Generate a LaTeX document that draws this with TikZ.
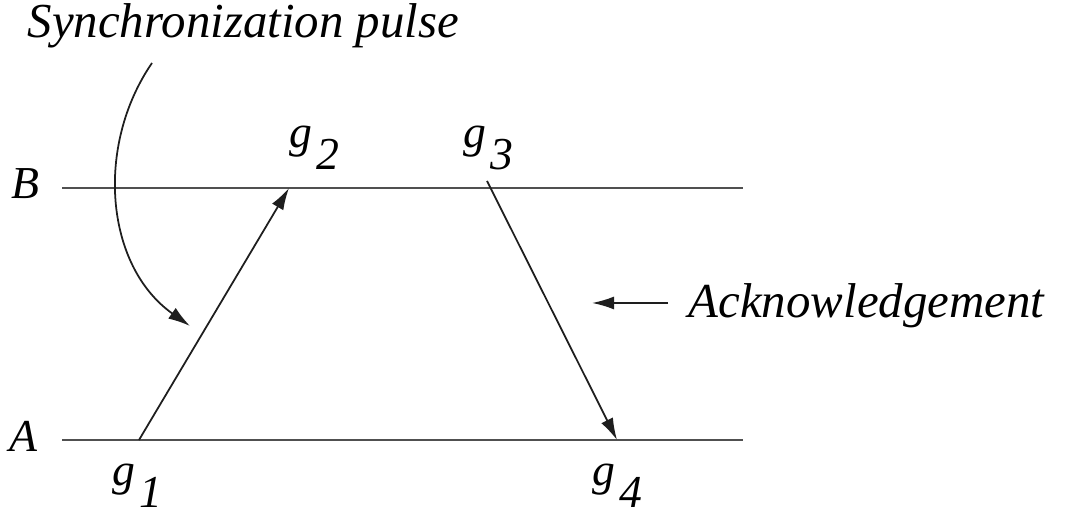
\documentclass[tikz,border=0pt]{standalone}
\usepackage{fontspec}
\setmainfont{Liberation Serif}
\usetikzlibrary{positioning,arrows.meta,calc}
\definecolor{TimeLine}{RGB}{80,80,80}
\definecolor{MsgInk}{RGB}{30,30,30}
\tikzset{
  time line/.style={draw=TimeLine, line width=0.7pt},
  msg arrow/.style={-{Latex[length=2.2mm,width=1.3mm]}, line width=0.5pt, MsgInk},
  evt label/.style={font=\fontsize{13}{15}\selectfont\itshape, inner sep=0pt, anchor=base west},
  side label/.style={font=\fontsize{13}{15}\selectfont\itshape, inner sep=0pt, anchor=base west},
  note label/.style={font=\fontsize{13.9}{16}\selectfont\itshape, inner sep=0pt, anchor=base west}
}
\newcommand{\evt}[1]{g\hspace{1pt}\raisebox{-6pt}{#1}}

\begin{document}
\begin{tikzpicture}[x=0.01cm,y=0.01cm]
\useasboundingbox (0,0) rectangle (1067,516);
% processes
\coordinate (bL) at (62,328);
\coordinate (bR) at (743,328);
\coordinate (aL) at (62,76);
\coordinate (aR) at (743,76);
\draw[time line] (bL)--(bR);
\draw[time line] (aL)--(aR);
\node[side label] (B) at (11,317) {B};
\node[side label] (A) at (9,64) {A};
% events
\coordinate (e1) at (139,76);
\coordinate (e2) at (289,328);
\coordinate (e3) at (487,335);
\coordinate (e4) at (617,76);
\node[evt label] (g1) at (112,30) {\evt{1}};
\node[evt label] (g2) at (289,368) {\evt{2}};
\node[evt label] (g3) at (463,368) {\evt{3}};
\node[evt label] (g4) at (592,30) {\evt{4}};
\draw[msg arrow] (e1)--(e2);
\draw[msg arrow] (e3)--(e4);
% labels
\node[note label] (sync) at (27,478) {Synchronization pulse};
\node[note label] (ack) at (688,198) {Acknowledgement};
\coordinate (syncS) at (152,453);
\coordinate (syncE) at (190,190);
\draw[msg arrow] (syncS) .. controls (95,370) and (105,250) .. (syncE);
\coordinate (ackS) at (668,213);
\coordinate (ackE) at (592,213);
\draw[msg arrow] (ackS)--(ackE);
\end{tikzpicture}
\end{document}
